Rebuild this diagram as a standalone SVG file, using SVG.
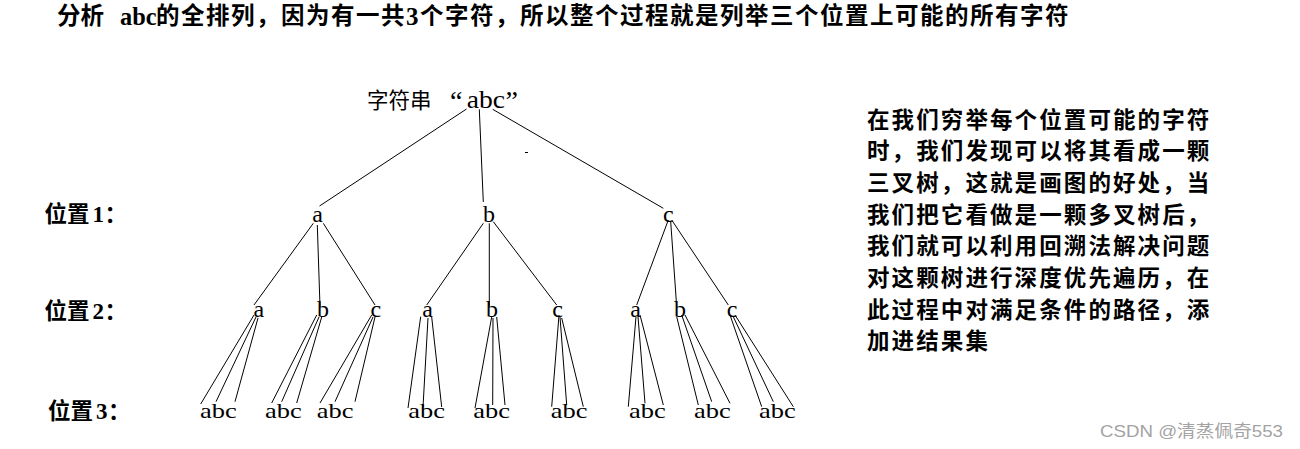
<svg xmlns="http://www.w3.org/2000/svg" width="1300" height="449" viewBox="0 0 1300 449">
<style>
.cjk{font-family:"Noto Sans CJK SC","Noto Sans",sans-serif;fill:#000}
.b{font-weight:700}
.t{font-size:23.5px;letter-spacing:1.5px}
.ser{font-family:"Liberation Serif","Noto Sans CJK SC",serif;fill:#000}
.lvl{font-family:"Liberation Serif",serif;font-size:24px;text-anchor:middle;fill:#000}
.leaf{font-family:"Liberation Serif",serif;font-size:21.5px;fill:#000}
.lab{font-size:22.5px}
.para{font-family:"Noto Sans CJK SC",sans-serif;font-size:22.5px;font-weight:700;letter-spacing:2.1px;fill:#000}
#connectors line{stroke:#000;stroke-width:1;fill:none}
</style>
<rect width="1300" height="449" fill="#fff"/>

<g id="title">
<text class="cjk b" font-size="23.5" y="24" x="57">分析</text>
<text class="ser b" font-size="25" y="25" x="120" textLength="36.5" lengthAdjust="spacingAndGlyphs">abc</text>
<text class="cjk b t" y="24" x="156">的全排列，因为有一共</text>
<text class="ser b" font-size="25" y="25" x="406">3</text>
<text class="cjk b t" y="24" x="420">个字符，所以整个过程就是列举三个位置上可能的所有字符</text>
</g>

<g id="connectors">
<line x1="466.5" y1="109" x2="319.5" y2="206"/>
<line x1="479.3" y1="109.3" x2="483.3" y2="202"/>
<line x1="492.7" y1="109.3" x2="663.3" y2="208.3"/>
<line x1="525" y1="152.5" x2="528" y2="152.5"/>

<line x1="313.3" y1="223.3" x2="254" y2="305"/>
<line x1="317.3" y1="225" x2="320" y2="306.7"/>
<line x1="323.3" y1="223.3" x2="375" y2="305"/>
<line x1="483.3" y1="223.3" x2="426.7" y2="305"/>
<line x1="489.3" y1="223.3" x2="489.3" y2="306.7"/>
<line x1="493.3" y1="221.7" x2="556.7" y2="305"/>
<line x1="668.3" y1="220" x2="636.7" y2="305"/>
<line x1="670.7" y1="221.7" x2="676.7" y2="306.7"/>
<line x1="671.7" y1="220" x2="728.3" y2="305"/>

<line x1="254" y1="315" x2="200.7" y2="404"/>
<line x1="256" y1="317" x2="216" y2="401.7"/>
<line x1="258" y1="318" x2="235" y2="401.7"/>
<line x1="316.7" y1="315" x2="271.7" y2="403"/>
<line x1="319" y1="317" x2="281.7" y2="401.7"/>
<line x1="321.7" y1="317" x2="296.7" y2="403"/>
<line x1="371.7" y1="315" x2="320" y2="403"/>
<line x1="373" y1="317" x2="335" y2="401.7"/>
<line x1="375" y1="317" x2="355" y2="401.7"/>
<line x1="420.7" y1="316.7" x2="408" y2="408"/>
<line x1="428" y1="318" x2="423" y2="407"/>
<line x1="431.7" y1="317" x2="441.7" y2="407"/>
<line x1="491.7" y1="317" x2="475" y2="408"/>
<line x1="493" y1="318" x2="492.7" y2="405"/>
<line x1="496.7" y1="317" x2="505" y2="405"/>
<line x1="559" y1="315" x2="551.7" y2="406.7"/>
<line x1="560" y1="317" x2="566.7" y2="405"/>
<line x1="561.7" y1="318" x2="583.3" y2="406.7"/>
<line x1="636" y1="316.7" x2="628.3" y2="406.7"/>
<line x1="638" y1="316.7" x2="645" y2="403.3"/>
<line x1="640" y1="315" x2="663.3" y2="405"/>
<line x1="676.7" y1="316.7" x2="698.3" y2="405"/>
<line x1="681.7" y1="315" x2="711.7" y2="401.7"/>
<line x1="685" y1="315" x2="730" y2="403.3"/>
<line x1="730" y1="315" x2="761.7" y2="406.7"/>
<line x1="733.3" y1="316.7" x2="773.3" y2="401.7"/>
<line x1="735" y1="315" x2="793.3" y2="406.7"/>
</g>

<g id="root">
<text class="cjk" font-size="21.5" y="107.5" x="367">字符串</text>
<text class="ser" font-size="28" y="110" x="450">“</text>
<text class="ser" font-size="24.5" y="108.3" x="466.7" textLength="38.3" lengthAdjust="spacingAndGlyphs">abc</text>
<text class="ser" font-size="28" y="110" x="505.5">”</text>
</g>

<g id="label1"><text class="cjk b lab" y="222" x="44.5">位置</text><text class="ser b" font-size="23" y="221.7" x="92.5">1</text><text class="cjk b lab" y="222" x="104.5">：</text></g>
<g id="label2"><text class="cjk b lab" y="319" x="44.5">位置</text><text class="ser b" font-size="23" y="318.7" x="92.5">2</text><text class="cjk b lab" y="319" x="104.5">：</text></g>
<g id="label3"><text class="cjk b lab" y="419" x="48">位置</text><text class="ser b" font-size="23" y="418.7" x="96">3</text><text class="cjk b lab" y="419" x="108">：</text></g>

<g id="l1-a"><text class="lvl" x="317.5" y="221.7">a</text></g>
<g id="l1-b"><text class="lvl" x="489" y="221.7">b</text></g>
<g id="l1-c"><text class="lvl" x="668.3" y="221.7">c</text></g>

<g id="l2-aa"><text class="lvl" x="258.8" y="317.3">a</text></g>
<g id="l2-ab"><text class="lvl" x="323" y="317.3">b</text></g>
<g id="l2-ac"><text class="lvl" x="375.8" y="317.3">c</text></g>
<g id="l2-ba"><text class="lvl" x="427.5" y="317.3">a</text></g>
<g id="l2-bb"><text class="lvl" x="492" y="317.3">b</text></g>
<g id="l2-bc"><text class="lvl" x="557.5" y="317.3">c</text></g>
<g id="l2-ca"><text class="lvl" x="635.5" y="317.3">a</text></g>
<g id="l2-cb"><text class="lvl" x="680" y="317.3">b</text></g>
<g id="l2-cc"><text class="lvl" x="732" y="317.3">c</text></g>

<g id="l3-1"><text class="leaf" x="200" y="418.3" textLength="36.7" lengthAdjust="spacingAndGlyphs">abc</text></g>
<g id="l3-2"><text class="leaf" x="265" y="418.3" textLength="36.7" lengthAdjust="spacingAndGlyphs">abc</text></g>
<g id="l3-3"><text class="leaf" x="316.7" y="418.3" textLength="36.7" lengthAdjust="spacingAndGlyphs">abc</text></g>
<g id="l3-4"><text class="leaf" x="408.3" y="418.3" textLength="36.7" lengthAdjust="spacingAndGlyphs">abc</text></g>
<g id="l3-5"><text class="leaf" x="473.3" y="418.3" textLength="36.7" lengthAdjust="spacingAndGlyphs">abc</text></g>
<g id="l3-6"><text class="leaf" x="550.7" y="418.3" textLength="36.7" lengthAdjust="spacingAndGlyphs">abc</text></g>
<g id="l3-7"><text class="leaf" x="629" y="418.3" textLength="36.7" lengthAdjust="spacingAndGlyphs">abc</text></g>
<g id="l3-8"><text class="leaf" x="694" y="418.3" textLength="36.7" lengthAdjust="spacingAndGlyphs">abc</text></g>
<g id="l3-9"><text class="leaf" x="759" y="418.3" textLength="36.7" lengthAdjust="spacingAndGlyphs">abc</text></g>

<g id="explanation">
<text class="para" x="867" y="127.5">在我们穷举每个位置可能的字符</text>
<text class="para" x="867" y="159.2">时，我们发现可以将其看成一颗</text>
<text class="para" x="867" y="190.9">三叉树，这就是画图的好处，当</text>
<text class="para" x="867" y="222.6">我们把它看做是一颗多叉树后，</text>
<text class="para" x="867" y="254.3">我们就可以利用回溯法解决问题</text>
<text class="para" x="867" y="286">对这颗树进行深度优先遍历，在</text>
<text class="para" x="867" y="317.7">此过程中对满足条件的路径，添</text>
<text class="para" x="867" y="349.4">加进结果集</text>
</g>

<g id="watermark">
<text x="1100" y="436.5" font-family="'Liberation Sans','Noto Sans CJK SC',sans-serif" font-size="17" fill="#a3a3a3" textLength="183" lengthAdjust="spacingAndGlyphs">CSDN @清蒸佩奇553</text>
</g>
</svg>
